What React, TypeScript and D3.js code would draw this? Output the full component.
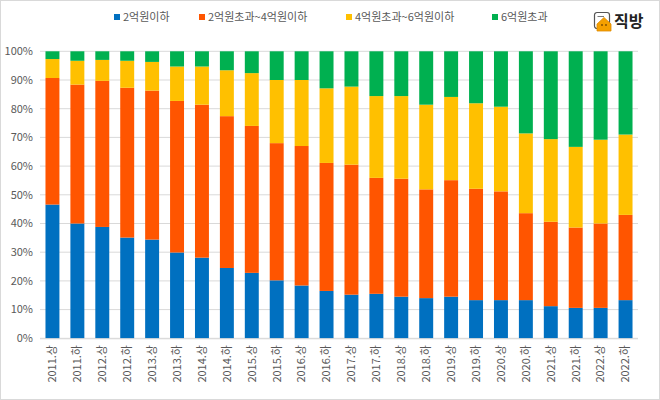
import React from "react";
import * as d3 from "d3";

const categories = ["2011.상","2011.하","2012.상","2012.하","2013.상","2013.하","2014.상","2014.하","2015.상","2015.하","2016.상","2016.하","2017.상","2017.하","2018.상","2018.하","2019.상","2019.하","2020.상","2020.하","2021.상","2021.하","2022.상","2022.하"];
const seriesNames = ["2억원이하","2억원초과~4억원이하","4억원초과~6억원이하","6억원초과"];
const under2 = [46.6,40.0,38.8,35.1,34.4,29.9,28.1,24.5,22.8,20.2,18.4,16.5,15.2,15.5,14.5,14.0,14.5,13.3,13.3,13.3,11.2,10.6,10.6,13.3];
const from2to4 = [44.1,48.4,50.9,52.2,51.9,52.8,53.3,52.9,51.2,47.8,48.6,44.6,45.3,40.4,41.1,37.9,40.6,38.8,37.9,30.3,29.4,28.0,29.4,29.7];
const from4to6 = [6.6,8.3,7.3,9.4,10.0,12.0,13.3,16.0,18.4,22.0,23.0,26.0,27.2,28.5,28.8,29.5,29.0,29.8,29.5,27.8,28.8,28.1,29.2,28.0];
const over6 = [2.7,3.3,3.0,3.3,3.7,5.3,5.3,6.6,7.6,10.0,10.0,12.9,12.3,15.6,15.6,18.6,15.9,18.1,19.3,28.6,30.6,33.3,30.8,29.0];
const yTicks = [0,10,20,30,40,50,60,70,80,90,100];
const colors = ["#0070C0","#FF5500","#FFC000","#00B050"];

const W = 660, H = 400;
const left = 40, right = 638, top = 51.3, bottom = 338.3;
const font = "'Noto Sans CJK KR', 'Noto Sans', sans-serif";

export default function App() {
  const x = d3.scaleBand<string>().domain(categories).range([left, right]).paddingInner(0.44).paddingOuter(0.22);
  const y = d3.scaleLinear().domain([0, 100]).range([bottom, top]);
  const rows = categories.map((c, i) => ({ cat: c, s0: under2[i], s1: from2to4[i], s2: from4to6[i], s3: over6[i] }));
  const stack = d3.stack<any>().keys(["s0","s1","s2","s3"]);
  const layers = stack(rows);
  const legendX = [114, 199, 346, 492];
  const legendY = 17;
  return (
    <svg width={W} height={H} style={{ position: "absolute", left: 0, top: 0, background: "#fff" }} fontFamily={font}>
      <rect x={0.5} y={0.5} width={W - 1} height={H - 1} fill="#fff" stroke="#d9d9d9" />
      {yTicks.map(t => (
        <g key={t}>
          <line x1={left} x2={right} y1={y(t)} y2={y(t)} stroke="#d9d9d9" strokeWidth={1} />
          <text x={33} y={y(t)} dy="0.35em" textAnchor="end" fontSize={11} fill="#595959">{t}%</text>
        </g>
      ))}
      {layers.map((layer, li) => (
        <g key={li} fill={colors[li]}>
          {layer.map((d, i) => (
            <rect key={i} x={x(categories[i])} width={x.bandwidth()} y={y(d[1])} height={y(d[0]) - y(d[1])} />
          ))}
        </g>
      ))}
      <line x1={left} x2={right} y1={bottom + 0.5} y2={bottom + 0.5} stroke="#d9d9d9" />
      {categories.map(c => {
        const cx = (x(c) as number) + x.bandwidth() / 2;
        return (
          <text key={c} transform={`translate(${cx},${345}) rotate(-90)`} textAnchor="end" dy="0.35em" fontSize={11} fill="#595959">{c}</text>
        );
      })}
      {seriesNames.map((n, i) => (
        <g key={n}>
          <rect x={legendX[i]} y={legendY - 3} width={6} height={6} fill={colors[i]} />
          <text x={legendX[i] + 9} y={legendY} dy="0.35em" fontSize={11} fill="#595959">{n}</text>
        </g>
      ))}
      <g transform="translate(594,12)">
        <rect x={0.5} y={0.5} width={15} height={16} rx={2.5} fill="#fff" stroke="#555" strokeWidth={1.2} />
        <line x1={3.5} x2={10} y1={4.5} y2={4.5} stroke="#777" strokeWidth={1} />
        <path d="M3,12 L10,5.5 L17,12 L17,19 L3,19 Z" fill="#F5A000" stroke="#E08A00" strokeWidth={0.8} />
        <circle cx={8} cy={13} r={0.9} fill="#7a4a00" />
        <circle cx={12} cy={13} r={0.9} fill="#7a4a00" />
      </g>
      <text x={614} y={21} dy="0.35em" fontSize={16} fontWeight={700} fill="#222">직방</text>
    </svg>
  );
}
